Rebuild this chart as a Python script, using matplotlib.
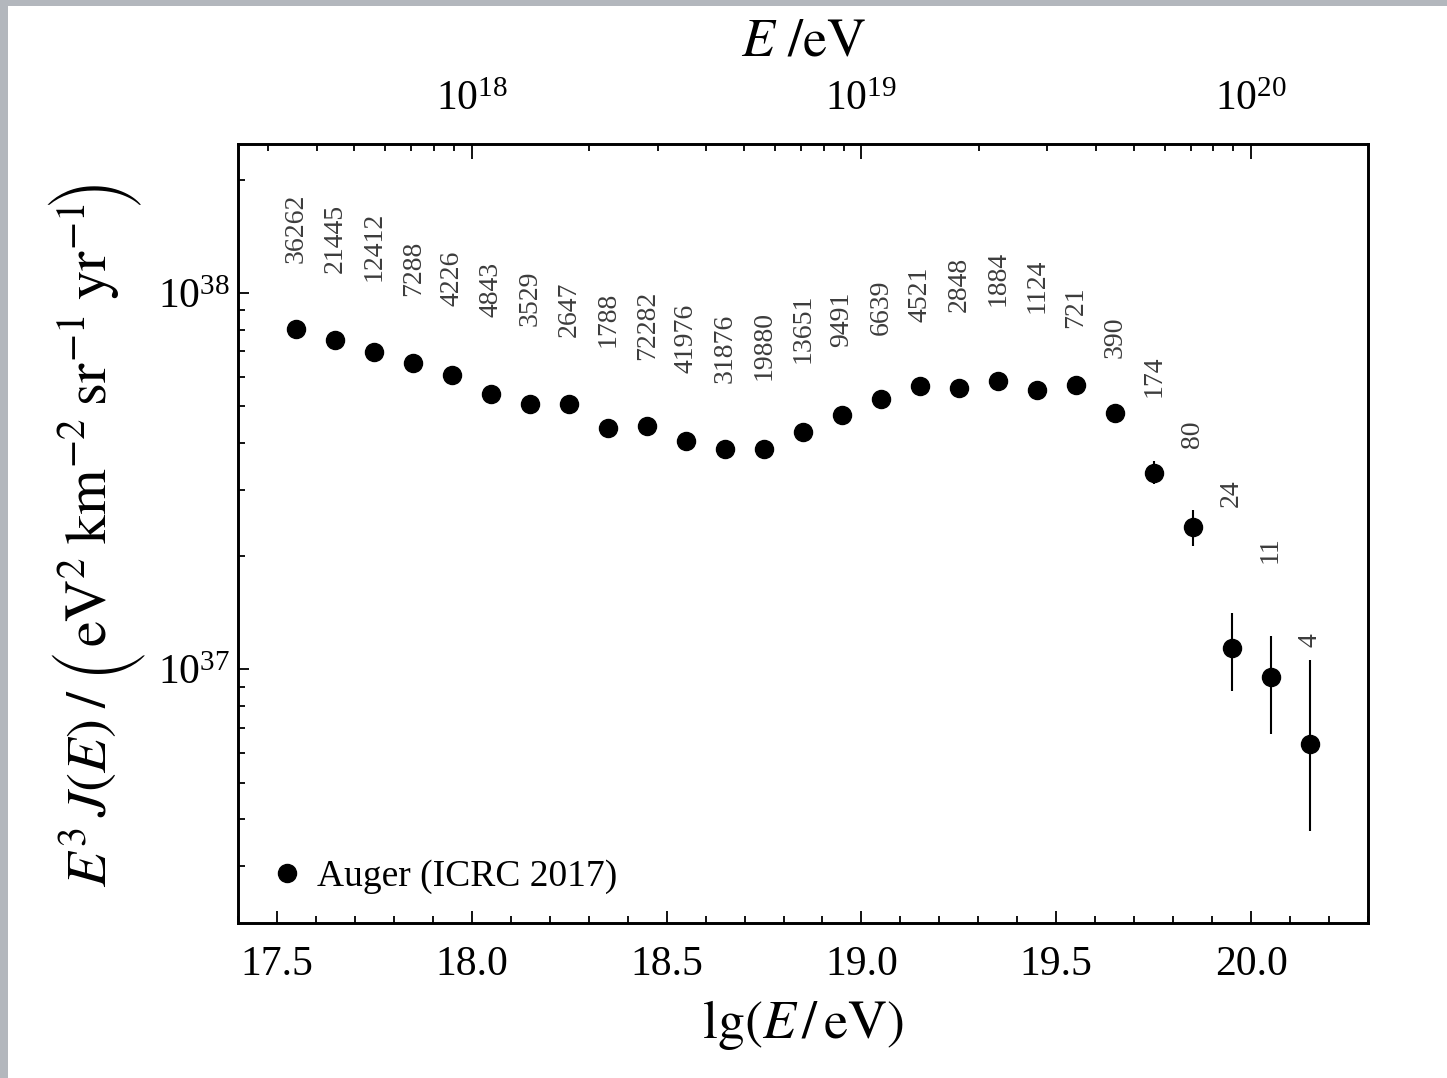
import numpy as np
import matplotlib
matplotlib.use("Agg")
import matplotlib.pyplot as plt
from matplotlib.patches import Rectangle
from matplotlib.ticker import MultipleLocator, LogLocator, NullFormatter

plt.rcParams['font.family'] = ['Liberation Serif', 'DejaVu Serif']
plt.rcParams['mathtext.fontset'] = 'stix'

# Auger spectrum (ICRC 2017), lg(E/eV) bin centres
lgE = [17.55, 17.65, 17.75, 17.85, 17.95, 18.05, 18.15, 18.25, 18.35, 18.45,
       18.55, 18.65, 18.75, 18.85, 18.95, 19.05, 19.15, 19.25, 19.35, 19.45,
       19.55, 19.65, 19.75, 19.85, 19.95, 20.05, 20.15]
# E^3 J(E) in eV^2 km^-2 sr^-1 yr^-1
flux = [8.02e37, 7.51e37, 6.97e37, 6.54e37, 6.06e37, 5.41e37, 5.07e37, 5.07e37,
        4.38e37, 4.44e37, 4.05e37, 3.85e37, 3.85e37, 4.27e37, 4.75e37, 5.24e37,
        5.65e37, 5.60e37, 5.84e37, 5.53e37, 5.69e37, 4.81e37, 3.33e37, 2.39e37,
        1.14e37, 9.56e36, 6.32e36]
flux_hi = [8.02e37, 7.51e37, 6.97e37, 6.54e37, 6.06e37, 5.41e37, 5.07e37, 5.07e37,
           4.38e37, 4.44e37, 4.05e37, 3.85e37, 3.85e37, 4.27e37, 4.75e37, 5.24e37,
           5.65e37, 5.60e37, 5.84e37, 5.53e37, 5.69e37, 4.81e37, 3.57e37, 2.65e37,
           1.41e37, 1.23e37, 1.06e37]
flux_lo = [8.02e37, 7.51e37, 6.97e37, 6.54e37, 6.06e37, 5.41e37, 5.07e37, 5.07e37,
           4.38e37, 4.44e37, 4.05e37, 3.85e37, 3.85e37, 4.27e37, 4.75e37, 5.24e37,
           5.65e37, 5.60e37, 5.84e37, 5.53e37, 5.69e37, 4.81e37, 3.11e37, 2.13e37,
           8.76e36, 6.73e36, 3.72e36]
# number of events per bin
counts = ["36262", "21445", "12412", "7288", "4226", "4843", "3529", "2647", "1788",
          "72282", "41976", "31876", "19880", "13651", "9491", "6639", "4521", "2848",
          "1884", "1124", "721", "390", "174", "80", "24", "11", "4"]
# gap (pixels) between point and its count label
label_gap = [66, 67, 71, 67, 69, 77, 78, 67, 81, 66, 68, 66, 69, 69, 68, 64, 64, 76,
             75, 77, 57, 55, 76, 79, 141, 114, 97]

flux = np.array(flux)
yerr = [flux - np.array(flux_lo), np.array(flux_hi) - flux]

W, H = 1447, 1078
fig = plt.figure(figsize=(W / 100, H / 100), dpi=100, facecolor='#b3b7bd')
fig.add_artist(Rectangle((8 / W, 0), 1, 1 - 6 / H, transform=fig.transFigure,
                         facecolor='white', edgecolor='none', zorder=-10))
ax = fig.add_axes([238 / W, 1 - 923 / H, (1368 - 238) / W, (923 - 144) / H])

ax.errorbar(lgE, flux, yerr=yerr, fmt='none', ecolor='black', elinewidth=1.5, capsize=0)
ax.plot(lgE, flux, 'o', color='black', ms=13, label='Auger (ICRC 2017)')

for x, y, c, g in zip(lgE, flux, counts, label_gap):
    ax.annotate(c, (x, y), xytext=(0, g), textcoords='offset pixels', rotation=90,
                ha='center', va='bottom', fontsize=20, color='#3c3c3c')

ax.set_yscale('log')
ax.set_xlim(17.4, 20.3)
ax.set_ylim(2.12e36, 2.49e38)

ax.xaxis.set_major_locator(MultipleLocator(0.5))
ax.xaxis.set_minor_locator(MultipleLocator(0.1))
ax.xaxis.set_major_formatter(matplotlib.ticker.FormatStrFormatter('%.1f'))
ax.yaxis.set_major_locator(LogLocator(base=10))
ax.yaxis.set_minor_locator(LogLocator(base=10, subs=np.arange(2, 10)))
ax.yaxis.set_minor_formatter(NullFormatter())

ax.tick_params(which='both', direction='in', top=False, right=False, width=1.3,
               labelsize=30)
ax.tick_params(axis='x', which='major', length=9, pad=16)
ax.tick_params(axis='x', which='minor', length=4.8)
ax.tick_params(axis='y', which='major', length=8, pad=6)
ax.tick_params(axis='y', which='minor', length=5)
for s in ax.spines.values():
    s.set_linewidth(1.9)

ax.set_xlabel(r'$\mathrm{lg}(E\,/\,\mathrm{eV})$', fontsize=39, labelpad=10)

# top axis in E/eV
ax2 = ax.twiny()
ax2.set_xscale('log')
ax2.set_xlim(10 ** 17.4, 10 ** 20.3)
ax2.xaxis.set_major_locator(LogLocator(base=10))
ax2.xaxis.set_minor_locator(LogLocator(base=10, subs=np.arange(2, 10)))
ax2.xaxis.set_minor_formatter(NullFormatter())
ax2.tick_params(which='both', direction='in', width=1.3, labelsize=30)
ax2.tick_params(which='major', length=11, pad=18)
ax2.tick_params(which='minor', length=5)
ax2.set_xlabel(r'$E\ /\mathrm{eV}$', fontsize=39, labelpad=18)
for s in ax2.spines.values():
    s.set_linewidth(1.9)

ax.legend(loc='lower left', bbox_to_anchor=(0.02, 0.018), frameon=False, fontsize=27,
          handlelength=0.6, handletextpad=0.5, borderaxespad=0, numpoints=1)

# y label built from pieces so the brackets can be tall
rend = fig.canvas.get_renderer()


def vtext(s, x, y, **kw):
    # x, y in pixels from the top-left corner
    return fig.text(x / W, 1 - y / H, s, rotation=90, rotation_mode='anchor', **kw)


def ytop(t):
    return H - t.get_window_extent(rend).y1


base_x, paren_x, paren_h = 107, 92, 95
t1 = vtext(r'$E^3\,J(E)\;/$', base_x, 887, fontsize=41, ha='left', va='baseline')
pos = ytop(t1) - 30

lp = vtext('(', paren_x, pos, fontsize=40, family='STIXSizeThreeSym',
           ha='center', va='center')
fs = 40 * paren_h / lp.get_window_extent(rend).width
lp.set_fontsize(fs)

t2 = vtext(r'$\mathrm{eV}^2\;\mathrm{km}^{-2}\;\mathrm{sr}^{-1}\;\mathrm{yr}^{-1}$',
           base_x, pos - 12, fontsize=42, ha='left', va='baseline')
rp = vtext(')', paren_x, ytop(t2) - 14, fontsize=fs, family='STIXSizeThreeSym',
           ha='center', va='center')

fig.savefig('out.png', dpi=100, facecolor=fig.get_facecolor())
